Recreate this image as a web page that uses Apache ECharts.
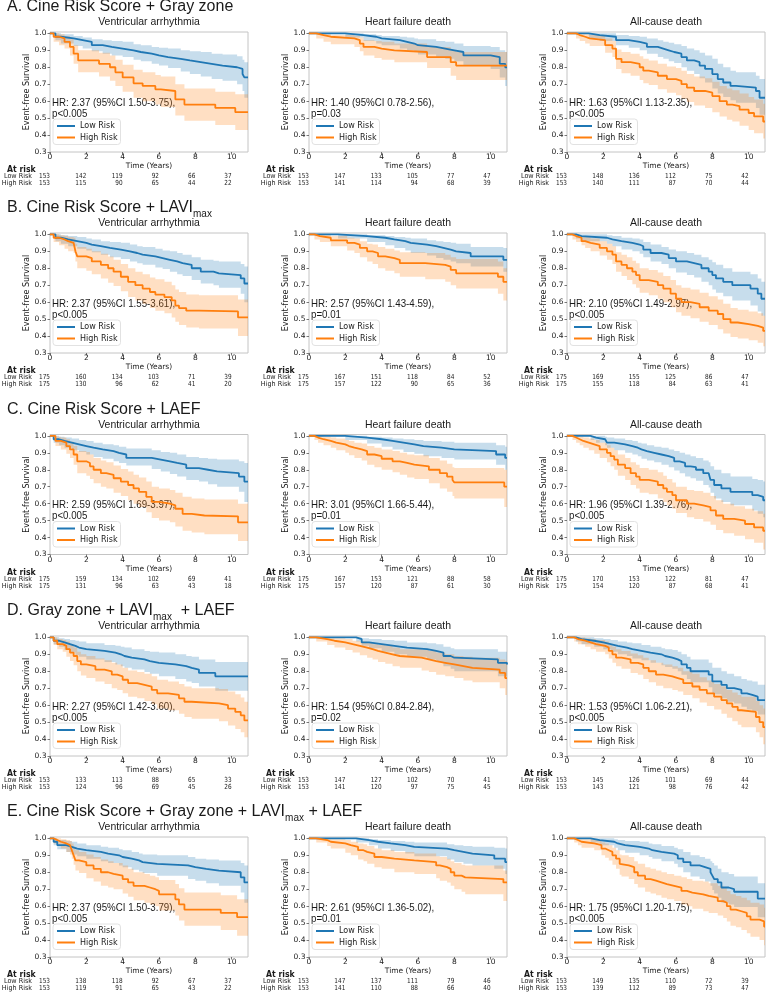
<!DOCTYPE html>
<html><head><meta charset="utf-8">
<script src="https://cdn.jsdelivr.net/npm/echarts@6/dist/echarts.min.js"></script>
<style>html,body{margin:0;padding:0;background:#fff}#c{width:767px;height:994px}</style>
</head><body><div id="c"></div>
<script>
// ---------- DATA: rows are [time, survival, CI lower, CI upper] ----------
const A_va_low=[[0,1,1,1],[0.3,0.98,0.96,1.0],[0.6,0.97,0.94,0.995],[1.3,0.96,0.925,0.985],[1.8,0.95,0.91,0.975],[2.3,0.93,0.895,0.965],[2.9,0.92,0.88,0.96],[3.4,0.91,0.87,0.955],[4.0,0.90,0.86,0.95],[4.6,0.89,0.845,0.935],[5.0,0.88,0.835,0.93],[5.6,0.87,0.82,0.92],[6.0,0.86,0.81,0.915],[6.5,0.85,0.795,0.91],[7.2,0.84,0.775,0.90],[7.7,0.83,0.76,0.895],[8.3,0.82,0.745,0.89],[8.9,0.81,0.73,0.88],[9.5,0.80,0.72,0.875],[10.3,0.79,0.70,0.865],[10.6,0.76,0.66,0.845],[10.7,0.74,0.62,0.83],[10.9,0.74,0.62,0.83]];
const A_va_high=[[0,1,1,1],[0.2,0.98,0.95,1.0],[0.5,0.97,0.93,0.995],[0.8,0.95,0.91,0.985],[1.1,0.92,0.87,0.965],[1.3,0.88,0.82,0.93],[1.55,0.84,0.77,0.90],[2.7,0.82,0.745,0.885],[3.3,0.80,0.72,0.87],[3.6,0.77,0.69,0.845],[4.0,0.74,0.655,0.815],[4.6,0.705,0.62,0.785],[5.1,0.69,0.60,0.77],[5.8,0.67,0.58,0.755],[6.1,0.66,0.565,0.745],[6.9,0.61,0.515,0.70],[7.4,0.58,0.485,0.675],[9.1,0.56,0.46,0.655],[10.2,0.535,0.43,0.64],[10.9,0.535,0.43,0.64]];
const A_hf_low=[[0,1,1,1],[2.0,0.99,0.975,1.0],[3.0,0.98,0.955,0.995],[3.7,0.97,0.94,0.99],[4.0,0.96,0.93,0.985],[5.0,0.95,0.91,0.98],[5.4,0.94,0.90,0.975],[5.8,0.93,0.89,0.97],[6.0,0.92,0.875,0.965],[7.0,0.91,0.86,0.955],[7.5,0.90,0.85,0.95],[8.0,0.89,0.835,0.94],[8.5,0.87,0.81,0.925],[10.0,0.86,0.79,0.92],[10.5,0.82,0.74,0.90],[10.8,0.80,0.69,0.89],[10.9,0.80,0.69,0.89]];
const A_hf_high=[[0,1,1,1],[0.4,0.99,0.97,1.0],[0.8,0.98,0.95,1.0],[1.2,0.97,0.935,0.99],[2.5,0.96,0.92,0.985],[2.8,0.94,0.895,0.975],[3.0,0.92,0.87,0.96],[3.6,0.91,0.855,0.955],[4.0,0.90,0.845,0.95],[4.7,0.89,0.83,0.94],[6.5,0.86,0.795,0.92],[7.8,0.83,0.75,0.90],[8.1,0.81,0.725,0.89],[10.9,0.81,0.72,0.885]];
const A_ac_low=[[0,1,1,1],[1.2,0.99,0.97,1.0],[1.8,0.98,0.955,1.0],[2.7,0.96,0.93,0.99],[3.4,0.95,0.915,0.985],[4.0,0.94,0.90,0.98],[4.4,0.92,0.88,0.97],[5.0,0.91,0.86,0.96],[5.3,0.90,0.85,0.95],[5.6,0.89,0.835,0.945],[5.9,0.88,0.825,0.935],[6.3,0.86,0.80,0.925],[6.6,0.84,0.78,0.91],[7.0,0.83,0.76,0.90],[7.3,0.81,0.735,0.885],[7.6,0.79,0.71,0.87],[8.0,0.76,0.675,0.85],[8.3,0.73,0.645,0.82],[8.6,0.71,0.625,0.80],[9.0,0.69,0.605,0.78],[9.3,0.68,0.59,0.77],[10.4,0.66,0.56,0.75],[10.6,0.62,0.52,0.73],[10.9,0.62,0.52,0.73]];
const A_ac_high=[[0,1,1,1],[0.5,0.99,0.97,1.0],[0.7,0.98,0.955,1.0],[1.0,0.97,0.94,0.995],[1.25,0.96,0.925,0.99],[2.1,0.93,0.885,0.97],[2.5,0.91,0.86,0.955],[2.7,0.85,0.79,0.905],[3.0,0.83,0.765,0.89],[3.5,0.82,0.75,0.88],[4.0,0.80,0.725,0.865],[4.2,0.78,0.705,0.85],[4.5,0.77,0.695,0.84],[5.0,0.75,0.67,0.82],[5.5,0.73,0.65,0.805],[6.0,0.72,0.635,0.795],[6.3,0.70,0.615,0.78],[6.6,0.68,0.595,0.76],[7.0,0.66,0.575,0.745],[7.6,0.65,0.56,0.735],[8.0,0.63,0.535,0.715],[8.4,0.60,0.51,0.69],[8.8,0.58,0.49,0.675],[9.1,0.57,0.48,0.665],[9.5,0.55,0.455,0.645],[10.0,0.53,0.43,0.625],[10.3,0.51,0.41,0.61],[10.8,0.48,0.38,0.585],[10.9,0.48,0.38,0.585]];

const B_va_low=[[0,1,1,1],[0.3,0.98,0.96,1.0],[0.6,0.97,0.945,0.995],[1.0,0.96,0.93,0.99],[1.5,0.95,0.915,0.985],[2.0,0.94,0.905,0.975],[2.3,0.93,0.895,0.97],[2.8,0.92,0.88,0.96],[3.3,0.91,0.865,0.955],[3.9,0.90,0.855,0.95],[4.4,0.89,0.84,0.94],[4.8,0.88,0.83,0.93],[5.1,0.87,0.82,0.925],[5.8,0.86,0.805,0.915],[6.2,0.85,0.795,0.905],[6.6,0.84,0.78,0.90],[7.0,0.83,0.765,0.89],[7.3,0.82,0.755,0.88],[7.8,0.80,0.73,0.865],[8.3,0.78,0.71,0.85],[9.0,0.77,0.70,0.845],[9.3,0.76,0.685,0.84],[10.5,0.74,0.65,0.825],[10.7,0.71,0.60,0.81],[10.9,0.71,0.60,0.81]];
const B_va_high=[[0,1,1,1],[0.2,0.98,0.955,1.0],[0.5,0.97,0.935,0.995],[0.8,0.96,0.915,0.99],[1.0,0.95,0.90,0.985],[1.3,0.94,0.89,0.98],[1.4,0.90,0.84,0.945],[1.5,0.87,0.80,0.925],[2.0,0.86,0.785,0.915],[2.3,0.84,0.765,0.90],[2.8,0.82,0.74,0.885],[3.2,0.80,0.715,0.87],[3.5,0.78,0.695,0.85],[3.9,0.75,0.665,0.825],[4.3,0.72,0.63,0.80],[4.7,0.70,0.61,0.78],[5.1,0.68,0.59,0.765],[5.5,0.66,0.565,0.745],[5.8,0.645,0.55,0.735],[6.3,0.63,0.535,0.72],[6.7,0.61,0.51,0.70],[6.9,0.58,0.485,0.675],[7.1,0.565,0.465,0.66],[7.5,0.55,0.45,0.645],[8.2,0.545,0.445,0.64],[10.35,0.51,0.40,0.615],[10.9,0.51,0.40,0.61]];
const B_hf_low=[[0,1,1,1],[1.6,0.99,0.975,1.0],[3.2,0.98,0.955,0.995],[4.2,0.97,0.935,0.99],[4.7,0.96,0.92,0.985],[5.3,0.95,0.905,0.98],[5.6,0.94,0.89,0.975],[6.5,0.93,0.875,0.965],[7.0,0.92,0.86,0.96],[7.4,0.91,0.85,0.955],[7.8,0.90,0.84,0.95],[8.1,0.89,0.83,0.945],[8.9,0.87,0.81,0.925],[10.7,0.85,0.78,0.92],[10.9,0.85,0.78,0.92]];
const B_hf_high=[[0,1,1,1],[0.3,0.99,0.97,1.0],[0.6,0.98,0.955,1.0],[1.2,0.965,0.93,0.99],[2.1,0.95,0.905,0.98],[2.5,0.94,0.89,0.975],[2.8,0.92,0.865,0.96],[3.2,0.90,0.84,0.945],[3.5,0.89,0.825,0.94],[3.8,0.87,0.80,0.925],[4.2,0.86,0.785,0.915],[4.7,0.85,0.77,0.905],[5.0,0.83,0.75,0.895],[6.4,0.82,0.735,0.89],[7.5,0.81,0.72,0.88],[7.8,0.79,0.70,0.865],[8.1,0.77,0.68,0.855],[10.4,0.75,0.65,0.84],[10.7,0.72,0.61,0.80],[10.9,0.72,0.61,0.80]];
const B_ac_low=[[0,1,1,1],[0.5,0.99,0.975,1.0],[0.8,0.98,0.96,1.0],[2.2,0.97,0.945,0.995],[2.5,0.96,0.93,0.99],[3.0,0.95,0.91,0.98],[3.6,0.94,0.90,0.975],[4.0,0.93,0.885,0.97],[4.2,0.91,0.865,0.955],[4.6,0.89,0.84,0.94],[5.2,0.88,0.825,0.925],[5.6,0.86,0.80,0.91],[6.0,0.84,0.775,0.90],[6.6,0.83,0.76,0.89],[7.0,0.82,0.745,0.88],[7.4,0.80,0.72,0.865],[7.8,0.78,0.70,0.85],[8.0,0.76,0.675,0.835],[8.2,0.74,0.655,0.82],[8.6,0.72,0.635,0.80],[9.1,0.70,0.61,0.78],[10.1,0.68,0.58,0.765],[10.5,0.65,0.545,0.74],[10.7,0.62,0.52,0.72],[10.9,0.62,0.52,0.72]];
const B_ac_high=[[0,1,1,1],[0.3,0.99,0.97,1.0],[0.5,0.98,0.955,0.995],[0.8,0.96,0.935,0.99],[1.0,0.95,0.92,0.985],[1.3,0.94,0.90,0.975],[1.8,0.92,0.875,0.96],[2.2,0.90,0.85,0.945],[2.5,0.88,0.825,0.93],[2.7,0.84,0.78,0.895],[3.0,0.82,0.755,0.88],[3.3,0.80,0.73,0.865],[3.6,0.78,0.705,0.845],[3.8,0.76,0.685,0.83],[4.0,0.73,0.655,0.80],[4.5,0.72,0.64,0.79],[5.0,0.70,0.62,0.775],[5.3,0.68,0.60,0.755],[5.7,0.65,0.57,0.73],[6.0,0.62,0.54,0.70],[6.3,0.60,0.52,0.685],[6.8,0.59,0.505,0.675],[7.3,0.57,0.485,0.655],[7.8,0.55,0.465,0.635],[8.3,0.53,0.44,0.615],[8.6,0.50,0.415,0.59],[9.0,0.48,0.395,0.565],[9.4,0.47,0.385,0.555],[10.0,0.46,0.375,0.545],[10.5,0.45,0.36,0.535],[10.8,0.43,0.34,0.52],[10.9,0.43,0.34,0.52]];

const C_va_low=[[0,1,1,1],[0.2,0.98,0.96,1.0],[0.5,0.97,0.945,0.995],[0.8,0.96,0.93,0.99],[1.2,0.95,0.915,0.985],[1.6,0.94,0.905,0.975],[2.0,0.93,0.89,0.97],[2.4,0.92,0.875,0.96],[2.9,0.91,0.865,0.95],[3.5,0.90,0.85,0.945],[3.8,0.89,0.84,0.935],[4.2,0.87,0.825,0.925],[5.6,0.86,0.805,0.915],[6.1,0.85,0.79,0.905],[6.6,0.84,0.775,0.90],[7.0,0.83,0.76,0.89],[7.5,0.81,0.74,0.875],[8.2,0.80,0.73,0.87],[8.7,0.79,0.715,0.865],[9.2,0.78,0.70,0.86],[10.4,0.76,0.67,0.85],[10.7,0.73,0.61,0.84],[10.9,0.73,0.61,0.84]];
const C_va_high=[[0,1,1,1],[0.3,0.97,0.94,0.995],[0.6,0.96,0.92,0.99],[0.9,0.94,0.895,0.98],[1.1,0.92,0.87,0.965],[1.3,0.89,0.83,0.94],[1.5,0.85,0.78,0.91],[2.0,0.84,0.765,0.905],[2.2,0.82,0.745,0.89],[2.4,0.80,0.72,0.87],[2.8,0.78,0.70,0.855],[3.1,0.77,0.69,0.845],[3.5,0.75,0.665,0.825],[3.9,0.73,0.645,0.805],[4.3,0.71,0.62,0.79],[4.6,0.69,0.60,0.77],[4.9,0.67,0.58,0.755],[5.3,0.64,0.55,0.73],[5.6,0.61,0.515,0.70],[6.0,0.60,0.50,0.69],[6.6,0.59,0.49,0.68],[6.9,0.57,0.465,0.665],[7.3,0.54,0.44,0.64],[7.8,0.53,0.43,0.63],[8.5,0.525,0.42,0.625],[10.35,0.49,0.38,0.60],[10.9,0.49,0.38,0.60]];
const C_hf_low=[[0,1,1,1],[2.0,0.99,0.975,1.0],[3.2,0.98,0.955,0.995],[4.0,0.97,0.935,0.99],[4.6,0.96,0.92,0.985],[5.2,0.95,0.905,0.98],[5.8,0.94,0.895,0.975],[6.3,0.93,0.88,0.97],[7.3,0.92,0.87,0.965],[8.0,0.91,0.86,0.96],[10.3,0.89,0.83,0.945],[10.8,0.87,0.80,0.935],[10.9,0.87,0.80,0.935]];
const C_hf_high=[[0,1,1,1],[0.3,0.99,0.975,1.0],[0.5,0.98,0.96,1.0],[0.8,0.97,0.945,0.995],[1.2,0.96,0.93,0.99],[1.5,0.95,0.915,0.985],[2.0,0.94,0.90,0.975],[2.2,0.93,0.885,0.97],[2.5,0.92,0.87,0.96],[2.9,0.91,0.855,0.955],[3.2,0.89,0.83,0.94],[3.6,0.88,0.815,0.93],[4.0,0.865,0.80,0.92],[4.6,0.85,0.785,0.91],[5.0,0.84,0.77,0.90],[5.4,0.83,0.755,0.89],[5.8,0.82,0.745,0.885],[6.6,0.80,0.72,0.87],[7.2,0.78,0.69,0.855],[7.6,0.76,0.67,0.835],[7.9,0.74,0.645,0.815],[8.0,0.725,0.63,0.81],[10.75,0.70,0.58,0.80],[10.9,0.70,0.58,0.80]];
const C_ac_low=[[0,1,1,1],[1.3,0.99,0.975,1.0],[1.6,0.98,0.96,1.0],[2.1,0.97,0.945,0.995],[2.2,0.96,0.93,0.99],[2.6,0.95,0.915,0.985],[3.2,0.94,0.90,0.975],[3.6,0.93,0.89,0.97],[3.9,0.92,0.88,0.96],[4.1,0.91,0.865,0.955],[4.4,0.90,0.855,0.945],[4.8,0.89,0.845,0.935],[5.2,0.88,0.83,0.93],[5.6,0.87,0.815,0.92],[5.9,0.85,0.795,0.91],[6.2,0.84,0.78,0.90],[6.5,0.82,0.76,0.89],[6.8,0.815,0.75,0.88],[7.1,0.80,0.735,0.87],[7.5,0.78,0.71,0.855],[7.8,0.77,0.695,0.845],[7.9,0.74,0.665,0.82],[8.1,0.71,0.63,0.80],[8.5,0.69,0.61,0.78],[9.0,0.67,0.59,0.76],[10.2,0.65,0.56,0.745],[10.5,0.64,0.54,0.74],[10.8,0.62,0.52,0.73],[10.9,0.62,0.52,0.73]];
const C_ac_high=[[0,1,1,1],[0.3,0.99,0.975,1.0],[0.5,0.98,0.96,1.0],[0.7,0.97,0.945,0.995],[0.9,0.96,0.93,0.99],[1.2,0.95,0.915,0.985],[1.5,0.94,0.895,0.975],[1.8,0.92,0.87,0.96],[2.2,0.90,0.845,0.945],[2.4,0.88,0.82,0.93],[2.6,0.86,0.80,0.915],[2.8,0.83,0.765,0.89],[3.2,0.81,0.74,0.87],[3.5,0.78,0.71,0.845],[3.8,0.76,0.69,0.83],[4.0,0.74,0.665,0.81],[4.5,0.73,0.655,0.80],[5.0,0.71,0.63,0.785],[5.3,0.69,0.61,0.765],[5.5,0.67,0.59,0.745],[5.8,0.65,0.57,0.725],[6.0,0.62,0.545,0.70],[6.6,0.60,0.52,0.68],[7.0,0.59,0.51,0.675],[7.5,0.58,0.495,0.665],[7.9,0.56,0.475,0.645],[8.2,0.53,0.445,0.62],[8.6,0.51,0.425,0.60],[9.2,0.50,0.41,0.585],[9.8,0.48,0.39,0.57],[10.3,0.46,0.37,0.555],[10.8,0.44,0.33,0.54],[10.9,0.44,0.33,0.54]];

const D_va_low=[[0,1,1,1],[0.2,0.98,0.96,1.0],[0.5,0.97,0.945,0.995],[0.8,0.96,0.925,0.99],[1.1,0.95,0.91,0.985],[1.4,0.94,0.895,0.98],[1.6,0.93,0.885,0.975],[2.0,0.92,0.87,0.965],[3.0,0.91,0.855,0.955],[3.6,0.90,0.84,0.95],[3.9,0.89,0.83,0.945],[4.1,0.88,0.82,0.94],[4.5,0.87,0.81,0.93],[5.2,0.86,0.795,0.92],[5.5,0.85,0.785,0.915],[6.0,0.84,0.77,0.91],[6.9,0.83,0.755,0.90],[7.5,0.82,0.74,0.89],[7.8,0.81,0.73,0.885],[8.2,0.79,0.71,0.87],[9.1,0.77,0.685,0.855],[10.9,0.77,0.68,0.85]];
const D_va_high=[[0,1,1,1],[0.2,0.98,0.955,1.0],[0.4,0.96,0.93,0.99],[0.7,0.95,0.915,0.985],[0.9,0.93,0.885,0.975],[1.1,0.91,0.86,0.96],[1.3,0.89,0.835,0.94],[1.5,0.86,0.80,0.915],[1.7,0.84,0.775,0.90],[2.0,0.83,0.76,0.89],[2.5,0.81,0.74,0.875],[3.0,0.80,0.725,0.865],[3.4,0.78,0.70,0.85],[3.7,0.77,0.69,0.84],[4.0,0.75,0.67,0.82],[4.3,0.73,0.65,0.805],[4.8,0.72,0.64,0.795],[5.2,0.71,0.625,0.785],[5.6,0.69,0.605,0.77],[5.9,0.67,0.58,0.75],[6.5,0.66,0.57,0.74],[7.1,0.64,0.55,0.725],[7.4,0.62,0.53,0.71],[7.8,0.61,0.52,0.70],[9.3,0.60,0.505,0.695],[9.8,0.58,0.48,0.68],[10.2,0.56,0.46,0.665],[10.5,0.54,0.44,0.645],[10.7,0.51,0.41,0.62],[10.9,0.51,0.41,0.62]];
const D_hf_low=[[0,1,1,1],[2.6,0.99,0.975,1.0],[2.9,0.97,0.95,0.995],[3.3,0.96,0.935,0.99],[4.0,0.95,0.915,0.985],[4.7,0.94,0.90,0.98],[5.4,0.93,0.885,0.97],[6.5,0.92,0.87,0.965],[7.0,0.91,0.855,0.96],[7.4,0.89,0.83,0.945],[7.8,0.88,0.815,0.935],[8.0,0.87,0.80,0.93],[10.4,0.85,0.77,0.915],[10.9,0.84,0.76,0.91]];
const D_hf_high=[[0,1,1,1],[0.4,0.99,0.975,1.0],[1.0,0.98,0.955,1.0],[1.4,0.97,0.94,0.995],[2.0,0.96,0.925,0.99],[2.4,0.95,0.91,0.98],[2.8,0.94,0.895,0.975],[3.2,0.93,0.88,0.97],[3.5,0.92,0.87,0.96],[3.8,0.91,0.855,0.955],[4.2,0.90,0.845,0.95],[4.6,0.89,0.83,0.94],[5.0,0.88,0.82,0.93],[6.2,0.87,0.805,0.925],[6.6,0.86,0.795,0.92],[7.0,0.85,0.78,0.91],[7.5,0.84,0.77,0.90],[8.0,0.83,0.76,0.89],[8.5,0.82,0.745,0.885],[9.0,0.81,0.735,0.88],[10.5,0.79,0.70,0.87],[10.8,0.76,0.66,0.86],[10.9,0.76,0.66,0.86]];
const D_ac_low=[[0,1,1,1],[0.5,0.99,0.975,1.0],[0.8,0.98,0.96,1.0],[1.5,0.97,0.945,0.995],[2.0,0.96,0.93,0.99],[2.4,0.95,0.915,0.985],[2.8,0.94,0.90,0.975],[3.3,0.93,0.89,0.97],[3.6,0.92,0.875,0.965],[4.1,0.91,0.865,0.955],[4.6,0.90,0.85,0.945],[5.2,0.89,0.835,0.935],[5.4,0.88,0.825,0.93],[5.8,0.87,0.815,0.925],[6.1,0.86,0.80,0.915],[6.3,0.84,0.78,0.90],[6.6,0.82,0.755,0.885],[6.8,0.80,0.735,0.87],[7.8,0.78,0.705,0.85],[8.0,0.74,0.665,0.82],[8.5,0.72,0.64,0.80],[8.8,0.70,0.62,0.785],[9.2,0.69,0.61,0.77],[9.6,0.67,0.59,0.755],[9.9,0.66,0.575,0.745],[10.2,0.65,0.565,0.74],[10.5,0.63,0.545,0.72],[10.9,0.63,0.545,0.72]];
const D_ac_high=[[0,1,1,1],[0.4,0.99,0.975,1.0],[0.6,0.98,0.96,1.0],[1.0,0.97,0.945,0.995],[1.3,0.96,0.93,0.99],[1.6,0.95,0.915,0.985],[2.1,0.94,0.90,0.975],[2.3,0.92,0.875,0.96],[2.5,0.90,0.85,0.945],[2.7,0.88,0.83,0.93],[3.0,0.87,0.815,0.92],[3.5,0.85,0.79,0.905],[3.9,0.84,0.78,0.895],[4.2,0.82,0.755,0.88],[4.5,0.80,0.735,0.865],[4.9,0.78,0.715,0.85],[5.3,0.77,0.70,0.84],[5.8,0.76,0.69,0.83],[6.1,0.75,0.68,0.82],[6.4,0.73,0.66,0.80],[6.9,0.71,0.64,0.785],[7.3,0.69,0.615,0.765],[7.7,0.67,0.595,0.745],[8.1,0.65,0.575,0.725],[8.5,0.63,0.55,0.71],[8.8,0.61,0.525,0.69],[9.1,0.59,0.505,0.675],[9.4,0.57,0.485,0.66],[9.6,0.56,0.47,0.65],[10.4,0.53,0.44,0.625],[10.6,0.50,0.41,0.60],[10.8,0.47,0.37,0.58],[10.9,0.47,0.37,0.58]];

const E_va_low=[[0,1,1,1],[0.2,0.98,0.96,1.0],[0.4,0.96,0.935,0.99],[0.9,0.95,0.92,0.985],[1.2,0.94,0.905,0.98],[1.5,0.93,0.895,0.97],[2.0,0.92,0.88,0.96],[2.8,0.91,0.865,0.95],[3.2,0.90,0.855,0.945],[3.8,0.89,0.84,0.935],[4.0,0.88,0.83,0.93],[4.5,0.87,0.815,0.92],[4.9,0.86,0.805,0.91],[5.1,0.85,0.795,0.905],[5.9,0.84,0.78,0.90],[7.6,0.83,0.76,0.89],[8.0,0.82,0.75,0.88],[8.6,0.81,0.735,0.875],[9.3,0.80,0.72,0.87],[10.5,0.77,0.68,0.855],[10.7,0.74,0.62,0.84],[10.9,0.74,0.62,0.84]];
const E_va_high=[[0,1,1,1],[0.2,0.99,0.97,1.0],[0.4,0.98,0.955,1.0],[0.6,0.97,0.94,0.995],[0.9,0.96,0.92,0.99],[1.1,0.95,0.905,0.985],[1.2,0.93,0.88,0.97],[1.3,0.90,0.845,0.95],[1.4,0.87,0.81,0.93],[1.6,0.86,0.795,0.92],[2.0,0.84,0.765,0.905],[2.4,0.82,0.745,0.89],[2.8,0.80,0.72,0.875],[3.2,0.79,0.71,0.865],[3.5,0.78,0.70,0.855],[4.0,0.76,0.675,0.84],[4.3,0.74,0.655,0.82],[4.6,0.72,0.635,0.80],[5.2,0.71,0.62,0.79],[5.5,0.70,0.61,0.78],[5.8,0.69,0.60,0.77],[6.0,0.67,0.575,0.755],[6.9,0.64,0.545,0.73],[7.1,0.61,0.515,0.705],[7.4,0.58,0.485,0.68],[9.4,0.56,0.46,0.665],[10.3,0.535,0.425,0.64],[10.9,0.535,0.42,0.63]];
const E_hf_low=[[0,1,1,1],[2.6,0.99,0.975,1.0],[3.3,0.98,0.96,0.995],[3.8,0.97,0.94,0.99],[4.5,0.96,0.925,0.985],[5.3,0.95,0.91,0.98],[5.8,0.94,0.895,0.975],[7.6,0.93,0.875,0.965],[8.0,0.92,0.86,0.96],[8.5,0.91,0.85,0.955],[9.0,0.90,0.84,0.95],[10.2,0.88,0.82,0.945],[10.8,0.86,0.79,0.94],[10.9,0.86,0.79,0.94]];
const E_hf_high=[[0,1,1,1],[0.4,0.99,0.975,1.0],[1.0,0.98,0.955,1.0],[1.2,0.97,0.94,0.995],[2.0,0.96,0.915,0.99],[2.3,0.95,0.90,0.98],[2.7,0.93,0.875,0.97],[3.0,0.92,0.865,0.965],[3.2,0.91,0.85,0.955],[3.6,0.89,0.83,0.94],[4.0,0.88,0.82,0.93],[4.7,0.87,0.80,0.92],[5.8,0.86,0.79,0.91],[7.0,0.84,0.765,0.895],[7.2,0.83,0.75,0.89],[7.6,0.82,0.74,0.88],[7.8,0.80,0.72,0.865],[8.0,0.78,0.70,0.855],[8.4,0.77,0.685,0.845],[8.6,0.76,0.67,0.84],[10.7,0.74,0.63,0.81],[10.9,0.74,0.63,0.81]];
const E_ac_low=[[0,1,1,1],[1.3,0.99,0.975,1.0],[1.8,0.98,0.96,1.0],[2.6,0.97,0.945,0.995],[2.8,0.96,0.93,0.99],[3.2,0.95,0.915,0.985],[4.0,0.94,0.90,0.98],[4.5,0.93,0.89,0.97],[4.7,0.92,0.88,0.965],[5.2,0.91,0.865,0.955],[5.9,0.90,0.85,0.945],[6.1,0.88,0.83,0.935],[6.4,0.86,0.80,0.92],[6.8,0.84,0.775,0.90],[7.3,0.83,0.76,0.89],[7.6,0.82,0.745,0.88],[7.9,0.80,0.72,0.865],[8.0,0.78,0.695,0.855],[8.1,0.76,0.675,0.84],[8.3,0.74,0.65,0.82],[8.5,0.71,0.62,0.80],[8.9,0.70,0.61,0.79],[9.2,0.685,0.595,0.775],[10.5,0.645,0.535,0.735],[10.9,0.645,0.53,0.73]];
const E_ac_high=[[0,1,1,1],[0.4,0.99,0.975,1.0],[0.6,0.98,0.96,1.0],[0.8,0.97,0.945,0.995],[1.5,0.96,0.93,0.99],[1.9,0.94,0.90,0.975],[2.1,0.93,0.885,0.97],[2.3,0.92,0.87,0.96],[2.5,0.90,0.845,0.945],[2.7,0.88,0.82,0.93],[2.9,0.85,0.785,0.905],[3.0,0.84,0.775,0.90],[3.4,0.83,0.76,0.89],[3.7,0.80,0.73,0.865],[3.9,0.78,0.71,0.85],[4.3,0.76,0.685,0.83],[4.6,0.75,0.675,0.82],[4.9,0.74,0.665,0.81],[5.2,0.73,0.65,0.80],[5.5,0.72,0.64,0.79],[5.9,0.71,0.63,0.78],[6.3,0.69,0.61,0.77],[6.6,0.68,0.60,0.76],[6.9,0.67,0.585,0.75],[7.5,0.66,0.57,0.745],[7.8,0.65,0.56,0.735],[8.3,0.63,0.545,0.72],[8.6,0.62,0.53,0.705],[8.8,0.60,0.51,0.69],[9.0,0.58,0.485,0.67],[9.3,0.57,0.475,0.66],[9.6,0.56,0.46,0.65],[9.9,0.54,0.44,0.635],[10.1,0.52,0.42,0.62],[10.6,0.51,0.40,0.61],[10.85,0.48,0.37,0.59],[10.9,0.48,0.37,0.59]];

// ---------- TEXT / TICK DATA ----------
const rowTitles=['{t|A. Cine Risk Score + Gray zone}','{t|B. Cine Risk Score + LAVI}{s|max}','{t|C. Cine Risk Score + LAEF}','{t|D. Gray zone + LAVI}{s|max}{t|  + LAEF}','{t|E. Cine Risk Score + Gray zone + LAVI}{s|max}{t| + LAEF}'];
const outcomeTitles=['Ventricular arrhythmia','Heart failure death','All-cause death'];
const hrLines=[
 ['HR: 2.37 (95%CI 1.50-3.75),','HR: 1.40 (95%CI 0.78-2.56),','HR: 1.63 (95%CI 1.13-2.35),'],
 ['HR: 2.37 (95%CI 1.55-3.61),','HR: 2.57 (95%CI 1.43-4.59),','HR: 2.10 (95%CI 1.49-2.97),'],
 ['HR: 2.59 (95%CI 1.69-3.97),','HR: 3.01 (95%CI 1.66-5.44),','HR: 1.96 (95%CI 1.39-2.76),'],
 ['HR: 2.27 (95%CI 1.42-3.60),','HR: 1.54 (95%CI 0.84-2.84),','HR: 1.53 (95%CI 1.06-2.21),'],
 ['HR: 2.37 (95%CI 1.50-3.79),','HR: 2.61 (95%CI 1.36-5.02),','HR: 1.75 (95%CI 1.20-1.75),']];
const pLines=[['p<0.005','p=0.03','p<0.005'],['p<0.005','p=0.01','p<0.005'],['p<0.005','p=0.01','p<0.005'],['p<0.005','p=0.02','p<0.005'],['p<0.005','p=0.01','p<0.005']];
const xTicks=[0,2,4,6,8,10];
const yTicks=[0.3,0.4,0.5,0.6,0.7,0.8,0.9,1.0];
const riskTicks=[0,2,4,6,8,10];
const riskLow=[
 [[153,142,119,92,66,37],[153,147,133,105,77,47],[153,148,136,112,75,42]],
 [[175,160,134,103,71,39],[175,167,151,118,84,52],[175,169,155,125,86,47]],
 [[175,159,134,102,69,41],[175,167,153,121,88,58],[175,170,153,122,81,47]],
 [[153,133,113,88,65,33],[153,147,127,102,70,41],[153,145,126,101,69,44]],
 [[153,138,118,92,67,37],[153,147,137,111,79,46],[153,149,135,110,72,39]]];
const riskHigh=[
 [[153,115,90,65,44,22],[153,141,114,94,68,39],[153,140,111,87,70,44]],
 [[175,130,96,62,41,20],[175,157,122,90,65,36],[175,155,118,84,63,41]],
 [[175,131,96,63,43,18],[175,157,120,87,61,30],[175,154,120,87,68,41]],
 [[153,124,96,69,45,26],[153,141,120,97,75,45],[153,143,121,98,76,42]],
 [[153,119,91,65,43,22],[153,141,110,88,66,40],[153,139,112,89,73,47]]];
const curves=[
 [[A_va_low,A_va_high],[A_hf_low,A_hf_high],[A_ac_low,A_ac_high]],
 [[B_va_low,B_va_high],[B_hf_low,B_hf_high],[B_ac_low,B_ac_high]],
 [[C_va_low,C_va_high],[C_hf_low,C_hf_high],[C_ac_low,C_ac_high]],
 [[D_va_low,D_va_high],[D_hf_low,D_hf_high],[D_ac_low,D_ac_high]],
 [[E_va_low,E_va_high],[E_hf_low,E_hf_high],[E_ac_low,E_ac_high]]];

// ---------- LAYOUT / STYLE ----------
const COL_LEFT=[50,309,567], ROW_TOP=[32,233,434.5,636,837], PW=198, PH=120;
const XMAX=10.9, YMIN=0.3, YMAX=1.008;
const BLUE='#1f77b4', ORANGE='#ff7f0e';
const BAND=['rgba(31,119,180,0.25)','rgba(255,127,14,0.25)'];
const SANS='"Liberation Sans", Arial, sans-serif';
const DJV='"DejaVu Sans", sans-serif';
const INK='#1a1a1a';

const chart=echarts.init(document.getElementById('c'),null,{renderer:'canvas'});
const grid=[],xAxis=[],yAxis=[],series=[],legend=[];

function bandSeries(rows,gi,color){
  return {type:'custom',coordinateSystem:'cartesian2d',xAxisIndex:gi,yAxisIndex:gi,silent:true,
    data:[[rows[0][0],rows[0][1]]],clip:true,
    renderItem:function(params,api){
      const pts=[];
      for(let i=0;i<rows.length;i++){
        pts.push(api.coord([rows[i][0],rows[i][3]]));
        if(i<rows.length-1) pts.push(api.coord([rows[i+1][0],rows[i][3]]));
      }
      for(let i=rows.length-1;i>=0;i--){
        if(i<rows.length-1) pts.push(api.coord([rows[i+1][0],rows[i][2]]));
        pts.push(api.coord([rows[i][0],rows[i][2]]));
      }
      return {type:'polygon',shape:{points:pts},style:{fill:color}};
    }};
}
function lineSeries(rows,gi,name,color){
  return {type:'line',name:name,xAxisIndex:gi,yAxisIndex:gi,step:'end',symbol:'none',silent:true,
    data:rows.map(r=>[r[0],r[1]]),color:color,itemStyle:{color:color},lineStyle:{color:color,width:1.8}};
}

let gi=0;
for(let r=0;r<5;r++){
  for(let c=0;c<3;c++){
    const L=COL_LEFT[c],T=ROW_TOP[r];
    grid.push({left:L,top:T,width:PW,height:PH,show:true,borderColor:'#c4c4c4',borderWidth:1,backgroundColor:'transparent'});
    xAxis.push({gridIndex:gi,type:'value',min:0,max:XMAX,interval:2,
      axisLine:{show:false},splitLine:{show:false},
      axisTick:{show:true,length:2.5,customValues:xTicks,lineStyle:{color:'#555',width:0.8}},
      axisLabel:{fontSize:7.5,fontFamily:DJV,color:INK,margin:1.5,customValues:xTicks,formatter:v=>String(v)},
      name:'Time (Years)',nameLocation:'middle',nameGap:8,
      nameTextStyle:{fontSize:7.5,fontFamily:DJV,color:INK}});
    yAxis.push({gridIndex:gi,type:'value',min:YMIN,max:YMAX,interval:0.1,
      axisLine:{show:false},splitLine:{show:false},
      axisTick:{show:true,length:2.5,customValues:yTicks,lineStyle:{color:'#555',width:0.8}},
      axisLabel:{fontSize:7.5,fontFamily:DJV,color:INK,margin:3.5,customValues:yTicks,formatter:v=>v.toFixed(1)},
      name:'Event-free Survival',nameLocation:'middle',nameGap:15,
      nameTextStyle:{fontSize:8,fontFamily:DJV,color:INK}});
    const [lowRows,highRows]=curves[r][c];
    series.push(bandSeries(lowRows,gi,BAND[0]));
    series.push(lineSeries(lowRows,gi,'Low Risk',BLUE));
    series.push(bandSeries(highRows,gi,BAND[1]));
    series.push(lineSeries(highRows,gi,'High Risk',ORANGE));
    legend.push({left:L+3,top:T+87,orient:'vertical',data:['Low Risk','High Risk'],
      icon:'rect',itemWidth:18,itemHeight:2,itemGap:3.5,padding:[3,3,3,4],
      borderColor:'#e2e2e2',borderWidth:1,borderRadius:3,backgroundColor:'rgba(255,255,255,0.8)',
      selectedMode:false,textStyle:{fontSize:8,fontFamily:DJV,color:INK}});
    gi++;
  }
}

chart.setOption({animation:false,backgroundColor:'#fff',grid,xAxis,yAxis,series,legend});

// ---------- TEXT (positioned through the axes) ----------
const graphic=[];
function txt(x,y,text,font,align,valign,sx,extra){
  graphic.push({type:'text',x:x,y:y,scaleX:sx||1,silent:true,
    style:Object.assign({text:text,font:font,fill:INK,textAlign:align,textVerticalAlign:valign},extra||{})});
}
gi=0;
for(let r=0;r<5;r++){
  const T=ROW_TOP[r];
  txt(7,T-25,rowTitles[r],'16px '+SANS,'left','middle',1,{rich:{
    t:{fontSize:16,fontFamily:SANS,fill:INK,lineHeight:20},
    s:{fontSize:10,fontFamily:SANS,fill:INK,lineHeight:10,padding:[12,0,0,0]}}});
  for(let c=0;c<3;c++){
    const L=COL_LEFT[c];
    const p06=chart.convertToPixel({gridIndex:gi},[0,0.6]);
    const pb=chart.convertToPixel({gridIndex:gi},[0,YMIN]);
    txt(L+PW/2,T-10,outcomeTitles[c],'11px '+SANS,'center','middle',0.95);
    txt(L+2,p06[1]+1.5,hrLines[r][c],'10.8px '+SANS,'left','middle',0.9);
    txt(L+2,p06[1]+12.8,pLines[r][c],'10.8px '+SANS,'left','middle',0.9);
    const by=pb[1];
    txt(L-43,by+18,'At risk','bold 8px '+DJV,'left','middle',0.97);
    txt(L-18,by+24.5,'Low Risk','7px '+DJV,'right','middle',0.92);
    txt(L-18,by+31.5,'High Risk','7px '+DJV,'right','middle',0.92);
    riskTicks.forEach((t,k)=>{
      const px=chart.convertToPixel({gridIndex:gi},[t,YMIN])[0];
      txt(px,by+24.5,String(riskLow[r][c][k]),'7px '+DJV,'right','middle',0.82);
      txt(px,by+31.5,String(riskHigh[r][c][k]),'7px '+DJV,'right','middle',0.82);
    });
    gi++;
  }
}
chart.setOption({graphic:graphic});
</script></body></html>
